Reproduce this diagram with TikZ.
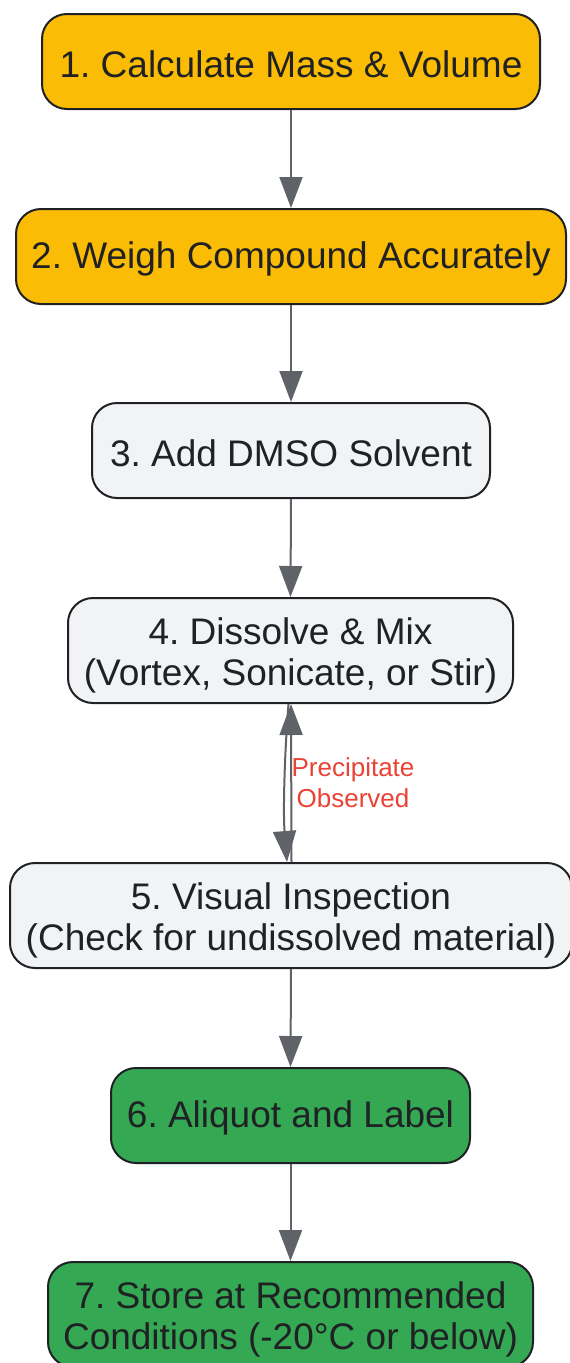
\documentclass[tikz,border=0pt]{standalone}
\usepackage{fontspec}
\setmainfont{Liberation Sans}
\usetikzlibrary{arrows.meta}
\frenchspacing
\definecolor{gyellow}{HTML}{FBBC05}
\definecolor{ggreen}{HTML}{34A853}
\definecolor{ggrey}{HTML}{F1F3F4}
\definecolor{gdark}{HTML}{202124}
\definecolor{garrow}{HTML}{5F6368}
\definecolor{gred}{HTML}{EA4335}
\newcommand\lift[1]{\rule{0pt}{#1pt}}
\tikzset{
  box/.style={draw=gdark, line width=2pt, rounded corners=25pt, inner sep=0pt,
    align=center, text=gdark, font=\fontsize{37}{41.5}\selectfont},
  arr/.style={draw=garrow, line width=2pt, -{Triangle[length=31pt,width=23pt]}},
  lbl/.style={text=gred, align=center, font=\fontsize{26}{31}\selectfont, inner sep=0pt}
}
\begin{document}
\begin{tikzpicture}[x=1pt,y=-1pt]
\useasboundingbox (0,0) rectangle (570,1363);
\fill[white] (0,0) rectangle (570,1363);
\node[box, fill=gyellow, minimum width=498pt, minimum height=95pt] (n1) at (291,61.5) {\lift{32}1. Calculate Mass \& Volume};
\node[box, fill=gyellow, minimum width=550pt, minimum height=95pt] (n2) at (291,256.5) {\lift{32}2. Weigh Compound Accurately};
\node[box, fill=ggrey, minimum width=398pt, minimum height=95pt] (n3) at (291,450.5) {\lift{32}3. Add DMSO Solvent};
\node[box, fill=ggrey, minimum width=445pt, minimum height=105pt] (n4) at (290.5,650.5) {\lift{37}4. Dissolve \& Mix\\(Vortex, Sonicate, or Stir)};
\node[box, fill=ggrey, minimum width=562pt, minimum height=105pt] (n5) at (291,915.5) {\lift{37}5. Visual Inspection\\(Check for undissolved material)};
\node[box, fill=ggreen, minimum width=359pt, minimum height=95pt] (n6) at (290.5,1115.5) {\lift{32}6. Aliquot and Label};
\node[box, fill=ggreen, minimum width=485pt, minimum height=105pt] (n7) at (290.5,1314.5) {\lift{37}7. Store at Recommended\\Conditions (-20°C or below)};
\draw[arr] (n1.south) -- (n2.north);
\draw[arr] (n2.south) -- (n3.north);
\draw[arr] (n3.south) -- (n4.north);
\draw[arr] ([xshift=-2pt]n4.south) .. controls +(-4,50) and +(-4,-50) .. ([xshift=-4pt]n5.north);
\draw[arr] ([xshift=0.5pt]n5.north) -- ([xshift=0.5pt]n4.south);
\node[lbl] (pl) at (353,783) {Precipitate\\Observed};
\draw[arr] (n5.south) -- (n6.north);
\draw[arr] (n6.south) -- (n7.north);
\end{tikzpicture}
\end{document}
